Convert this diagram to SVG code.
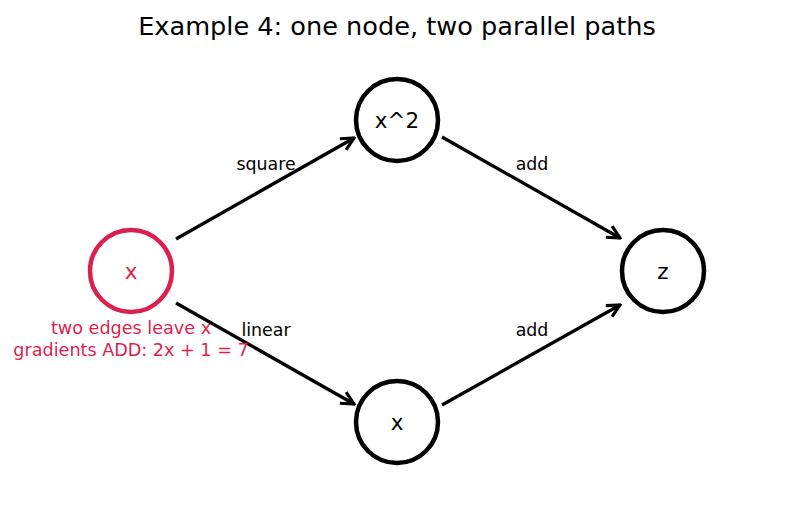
<svg xmlns="http://www.w3.org/2000/svg" width="791" height="512" viewBox="0 0 791 512">
<defs>
<style>
text{font-family:"DejaVu Sans",sans-serif;}
.node{fill:#fff;stroke:#000;stroke-width:4.5;}
.red{stroke:#dc1f4f;}
.lbl{font-size:21.5px;text-anchor:middle;dominant-baseline:central;}
.elbl{font-size:17.4px;text-anchor:middle;dominant-baseline:central;}
.edge{stroke:#000;stroke-width:3.3;fill:none;marker-end:url(#arr);}
.note{font-size:17.6px;fill:#dc1f4f;text-anchor:middle;dominant-baseline:central;}
</style>
<marker id="arr" viewBox="0 0 10 10" refX="9" refY="5" markerWidth="4.8" markerHeight="4.8" orient="auto" markerUnits="strokeWidth">
<path d="M1,1 L9,5 L1,9" fill="none" stroke="#000" stroke-width="2" stroke-linecap="butt" stroke-linejoin="miter"/>
</marker>
</defs>
<rect width="791" height="512" fill="#fff"/>
<text x="397" y="26" font-size="25.6" text-anchor="middle" dominant-baseline="central">Example 4: one node, two parallel paths</text>
<g id="connectors">
<line class="edge" x1="176" y1="239" x2="354" y2="138"/>
<line class="edge" x1="176" y1="303" x2="354" y2="404"/>
<line class="edge" x1="442" y1="137" x2="620" y2="238"/>
<line class="edge" x1="442" y1="405" x2="620" y2="305"/>
<text class="elbl" x="266" y="164">square</text>
<text class="elbl" x="266" y="330">linear</text>
<text class="elbl" x="532" y="164">add</text>
<text class="elbl" x="532" y="330">add</text>
</g>
<g id="node-x">
<circle class="node red" cx="131" cy="271" r="41"/>
<text class="lbl" x="131" y="271" fill="#dc1f4f">x</text>
</g>
<g id="node-x2">
<circle class="node" cx="397" cy="120" r="41"/>
<text class="lbl" x="397" y="120">x^2</text>
</g>
<g id="node-xb">
<circle class="node" cx="397" cy="422" r="41"/>
<text class="lbl" x="397" y="422">x</text>
</g>
<g id="node-z">
<circle class="node" cx="663" cy="271" r="41"/>
<text class="lbl" x="663" y="271">z</text>
</g>
<g id="note">
<text class="note" x="131" y="328">two edges leave x</text>
<text class="note" x="131" y="350">gradients ADD: 2x + 1 = 7</text>
</g>
</svg>
